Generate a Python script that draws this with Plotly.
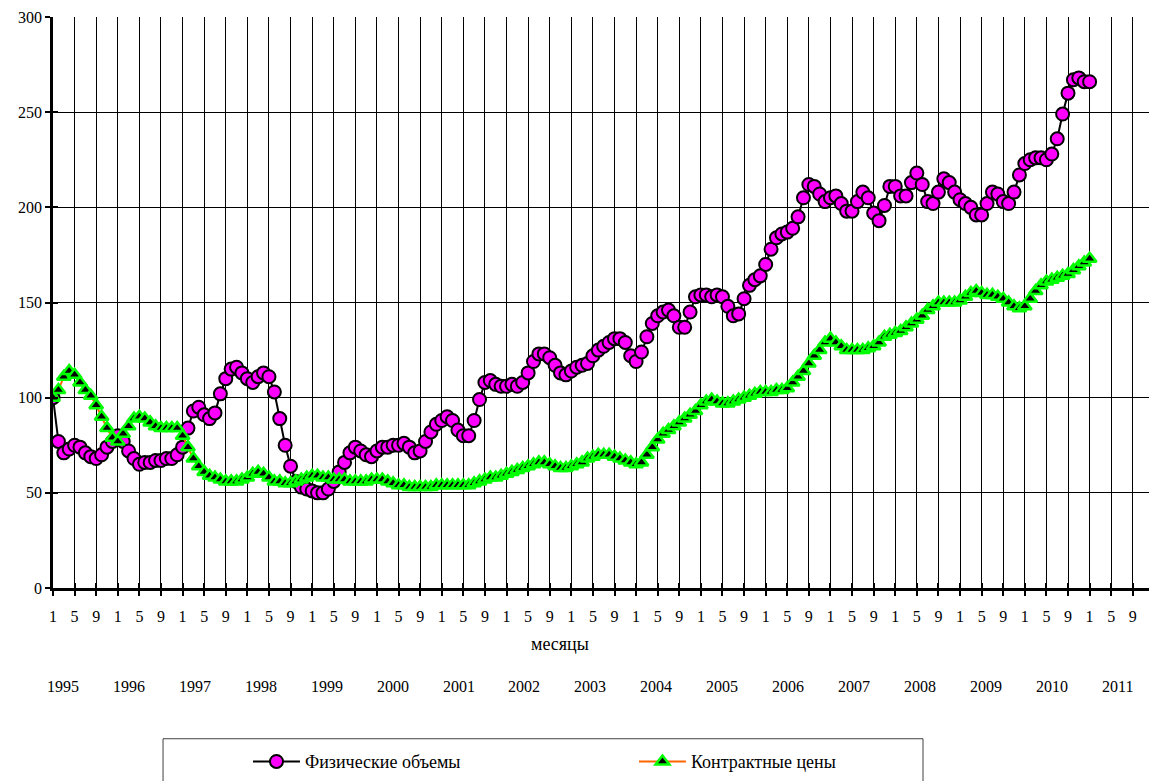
import plotly.graph_objects as go

# ---- data ----
years = list(range(1995, 2012))
month_labels = ["1", "5", "9"]

# Физические объемы, monthly Jan 1995 .. Jan 2011
vol = [
    100, 77, 71, 73, 75, 74, 71, 69, 68, 70, 74, 77,      # 1995
    80, 77, 72, 68, 65, 66, 66, 67, 67, 68, 68, 70,       # 1996
    74, 84, 93, 95, 91, 89, 92, 102, 110, 115, 116, 113,  # 1997
    110, 108, 111, 113, 111, 103, 89, 75, 64, 56, 53, 52, # 1998
    51, 50, 50, 52, 56, 61, 66, 71, 74, 72, 70, 69,       # 1999
    72, 74, 74, 75, 75, 76, 74, 71, 72, 77, 82, 86,       # 2000
    88, 90, 88, 83, 80, 80, 88, 99, 108, 109, 107, 106,   # 2001
    106, 107, 106, 108, 113, 119, 123, 123, 121, 117, 113, 112,  # 2002
    114, 116, 117, 118, 122, 125, 127, 129, 131, 131, 129, 122,  # 2003
    119, 124, 132, 139, 143, 145, 146, 143, 137, 137, 145, 153,  # 2004
    154, 154, 153, 154, 153, 148, 143, 144, 152, 159, 162, 164,  # 2005
    170, 178, 184, 186, 187, 189, 195, 205, 212, 211, 207, 203,  # 2006
    205, 206, 202, 198, 198, 203, 208, 205, 197, 193, 201, 211,  # 2007
    211, 206, 206, 213, 218, 212, 203, 202, 208, 215, 213, 208,  # 2008
    204, 202, 200, 196, 196, 202, 208, 207, 203, 202, 208, 217,  # 2009
    223, 225, 226, 226, 225, 228, 236, 249, 260, 267, 268, 266,  # 2010
    266,                                                          # 2011
]

# Контрактные цены
price = [
    100, 104, 111, 114, 112, 108, 104, 101, 96, 90, 84, 79,   # 1995
    77, 81, 85, 89, 90, 89, 87, 85, 84, 84, 84, 84,           # 1996
    80, 74, 68, 64, 61, 59, 58, 57, 56, 56, 56, 57,           # 1997
    58, 60, 61, 60, 58, 56, 56, 55, 55, 56, 57, 58,           # 1998
    59, 59, 58, 58, 57, 57, 57, 56, 56, 56, 56, 57,           # 1999
    57, 57, 56, 55, 54, 54, 53, 53, 53, 53, 53, 54,           # 2000
    54, 54, 54, 54, 54, 54, 55, 56, 57, 58, 58, 59,           # 2001
    60, 61, 62, 63, 64, 65, 66, 66, 65, 64, 63, 63,           # 2002
    64, 65, 66, 68, 69, 70, 70, 70, 69, 68, 67, 66,           # 2003
    65, 66, 70, 74, 78, 81, 83, 85, 87, 89, 91, 93,           # 2004
    96, 98, 99, 98, 97, 97, 98, 99, 100, 101, 102, 103,       # 2005
    103, 103, 104, 104, 105, 108, 111, 114, 118, 122, 125, 129,  # 2006
    131, 129, 127, 125, 125, 125, 125, 126, 127, 129, 132, 133,  # 2007
    134, 135, 137, 139, 141, 143, 146, 148, 150, 150, 150, 150,  # 2008
    151, 153, 155, 156, 155, 154, 154, 153, 152, 150, 148, 147,  # 2009
    148, 152, 156, 159, 161, 162, 163, 164, 165, 167, 169, 171,  # 2010
    173,                                                          # 2011
]

FONT = "Liberation Serif, Times New Roman, Times, serif"

idx = list(range(len(vol)))
tick_vals = list(range(0, len(years) * 12, 4))
tick_text = [month_labels[k % 3] for k in range(len(tick_vals))]

fig = go.Figure()
fig.add_trace(go.Scatter(
    x=idx, y=vol, mode="lines+markers", name="Физические объемы",
    line=dict(color="black", width=2),
    marker=dict(symbol="circle", size=13, color="#FF00FF",
                line=dict(color="black", width=2)),
))
fig.add_trace(go.Scatter(
    x=idx, y=price, mode="lines+markers", name="Контрактные цены",
    line=dict(color="#FF6600", width=2),
    marker=dict(symbol="triangle-up", size=12, color="black",
                line=dict(color="#00FF00", width=2.5)),
))
# empty helper traces so that the overlay axes (inner half of cross ticks) render
fig.add_trace(go.Scatter(x=[], y=[], xaxis="x2", yaxis="y", showlegend=False, hoverinfo="skip"))
fig.add_trace(go.Scatter(x=[], y=[], xaxis="x", yaxis="y2", showlegend=False, hoverinfo="skip"))

xr = [0, 203]
yr = [0, 300]

annotations = [dict(text="месяцы", xref="paper", yref="paper", x=0.4626, y=-0.098,
                    showarrow=False, font=dict(family=FONT, size=18, color="black"),
                    xanchor="center", yanchor="middle")]
for k, yv in enumerate(years):
    annotations.append(dict(text=str(yv), xref="x", yref="paper",
                            x=1.85 + k * 12.21, y=-0.173, showarrow=False,
                            font=dict(family=FONT, size=16, color="black"),
                            xanchor="center", yanchor="middle"))

fig.update_layout(
    width=1151, height=781,
    margin=dict(l=53, r=2, t=17, b=192),
    paper_bgcolor="white", plot_bgcolor="white",
    font=dict(family=FONT, size=16, color="black"),
    showlegend=True,
    legend=dict(orientation="h", x=0.1779, y=-0.302, xanchor="left", yanchor="middle",
                entrywidth=324, entrywidthmode="pixels", itemwidth=47,
                bgcolor="rgba(0,0,0,0)", borderwidth=0,
                font=dict(family=FONT, size=18, color="black")),
    xaxis=dict(range=xr, tickmode="array", tickvals=tick_vals, ticktext=tick_text,
               showgrid=True, gridcolor="black", gridwidth=1,
               showline=True, linecolor="black", linewidth=2.5,
               ticks="outside", ticklen=5, tickwidth=2, tickcolor="black",
               ticklabelstandoff=7, zeroline=False,
               tickfont=dict(family=FONT, size=16, color="black")),
    xaxis2=dict(range=xr, overlaying="x", anchor="y", side="bottom",
                tickmode="array", tickvals=tick_vals, showticklabels=False,
                ticks="inside", ticklen=5, tickwidth=2, tickcolor="black",
                showgrid=False, showline=False, zeroline=False),
    yaxis=dict(range=yr, tickmode="linear", tick0=0, dtick=50,
               showgrid=True, gridcolor="black", gridwidth=1,
               showline=True, linecolor="black", linewidth=2.5,
               ticks="outside", ticklen=5, tickwidth=2, tickcolor="black",
               zeroline=False,
               tickfont=dict(family=FONT, size=16, color="black")),
    yaxis2=dict(range=yr, overlaying="y", anchor="x", side="left",
                tickmode="linear", tick0=0, dtick=50, showticklabels=False,
                ticks="inside", ticklen=5, tickwidth=2, tickcolor="black",
                showgrid=False, showline=False, zeroline=False),
    annotations=annotations,
    shapes=[dict(type="rect", xref="paper", yref="paper",
                 x0=0.1004, x1=0.7938, y0=-0.264, y1=-0.40,
                 line=dict(color="#404040", width=1), fillcolor="rgba(0,0,0,0)",
                 layer="below")],
)

fig.write_html("out.html", config={"displayModeBar": False},
               post_script="document.body.style.margin='0';document.body.style.overflow='hidden';")
